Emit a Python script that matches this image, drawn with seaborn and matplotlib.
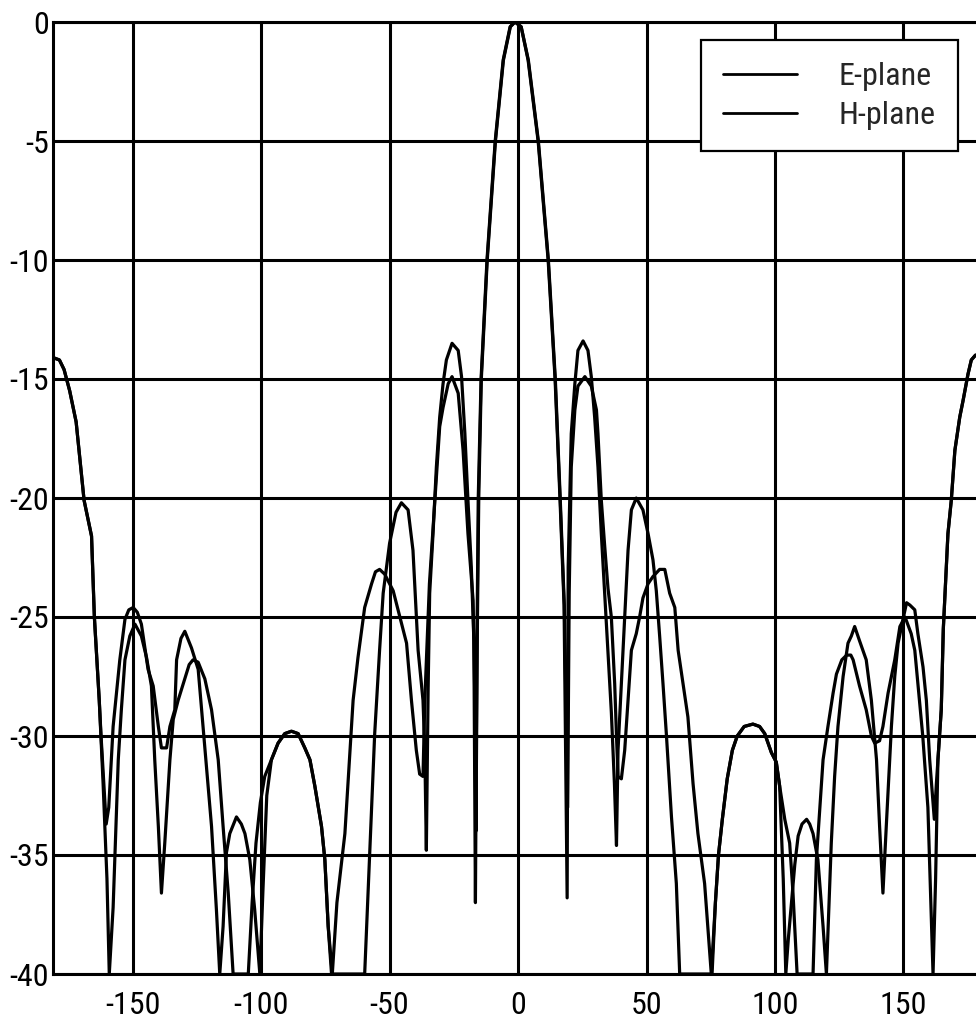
import matplotlib
matplotlib.use("Agg")
import matplotlib.pyplot as plt
from matplotlib import font_manager
import pandas as pd
import seaborn as sns

# Radiation pattern cuts, angle in degrees, normalised gain in dB
e_angle = [-181, -178.5, -176.7, -174.5, -172, -168.9, -166, -164.9, -163,
           -162.3, -160.3, -159.3, -157.6, -156.3, -155, -153, -151.5, -149.8, -148.2, -146.6,
           -144, -142, -140, -138.8, -136.8, -135.5, -133.6, -132.9, -131.2, -129.7,
           -127.1, -124.5, -121.9, -119.3, -117.4, -116.1, -114.8, -113.5, -112.2, -109.6,
           -107.7, -106.3, -104.4, -102.5, -100.5, -99.3, -97.8, -96, -93.4, -90.8,
           -88.2, -85.6, -83, -81, -79.1, -76.5, -75.2, -73.9, -72.6, -59.7,
           -57.7, -55.8, -53.9, -52.5, -50, -47.5, -45.4, -42.8, -40.9, -38.9,
           -37, -36.3, -35.7, -35, -34.4, -33.1, -31.8, -30.5, -29.2, -27.9,
           -25.7, -23.3, -22, -20.7, -19.5, -18.2, -17.2, -16.6, -16.0, -15.5,
           -14.4, -12.1, -8.9, -5.8, -3.1, -1.2, 1.2, 3.9, 7.8, 11.7,
           14.4, 16.3, 17.9, 19.1, 19.5, 20.1, 20.7, 22.1, 23.3, 25.3,
           27.2, 28.5, 29.8, 31.1, 32.4, 33.7, 35, 36.3, 37.5, 38.3,
           38.9, 40.2, 41.5, 42.8, 44.1, 46, 48.6, 50.6, 52.5, 53.8,
           55.1, 56.4, 57.7, 59.7, 61.6, 62.9, 75.5, 76.8, 78, 79.5,
           81.4, 83.4, 85.3, 88, 91.4, 94, 96, 98.6, 100.5, 101.8,
           103.2, 104.2, 105.2, 106.4, 107.7, 109, 110.5, 112.3, 113.5, 114.8,
           116.7, 118.7, 120, 121.9, 123.2, 124.5, 126.5, 128.4, 129.7, 131,
           132.9, 135.5, 137.5, 139.5, 140.7, 142, 143.3, 145.3, 146.6, 147.9,
           149.8, 151.2, 152.5, 154.4, 155.6, 157.6, 158.9, 160.2, 162, 162.8,
           163.4, 164.7, 165.5, 167.3, 168.6, 170, 171.9, 173.2, 175.1, 176.4,
           178, 179]
e_gain = [-14.1, -14.2, -14.6, -15.5, -16.8, -20.1, -21.6, -25, -28.5,
          -30, -33.7, -33, -29.6, -28.2, -26.8, -25.1, -24.7, -24.6, -24.8, -25.3,
          -27.2, -27.9, -29.6, -30.5, -30.5, -29.6, -28.9, -26.8, -25.9, -25.6,
          -26.3, -27.2, -30.5, -33.8, -37.3, -40, -38, -34.9, -34.1, -33.4,
          -33.7, -34.1, -35.2, -37.3, -40, -36.5, -32.5, -31, -30.3, -29.9,
          -29.8, -29.9, -30.5, -31, -32.1, -33.8, -35.2, -38, -40, -40,
          -34.8, -29.9, -26.4, -24, -21.9, -20.6, -20.2, -20.5, -22.2, -26.4,
          -28.5, -30.6, -34.8, -28, -24, -21.5, -18.7, -16.6, -15.2, -14.2,
          -13.5, -13.8, -14.9, -17.3, -20.1, -22.9, -26, -37, -26, -20,
          -15, -10, -5, -1.6, -0.2, 0, -0.2, -1.6, -5, -10,
          -15, -20, -24.5, -36.8, -22.9, -20.1, -17.3, -15.2, -13.8, -13.4,
          -13.8, -14.9, -16.6, -18.7, -21.5, -24, -26.5, -29, -32, -34.6,
          -30.6, -27.8, -25, -22.2, -20.5, -20, -20.5, -21.5, -22.6, -23.9,
          -25.8, -27.8, -29.9, -33.4, -36.2, -40, -40, -37, -35, -33.5,
          -31.8, -30.6, -30, -29.6, -29.5, -29.6, -29.9, -30.7, -31.1, -32.1,
          -36, -40, -38.5, -37, -35.4, -34.2, -33.7, -33.5, -33.7, -34.1,
          -35.2, -38, -40, -34.5, -31.7, -29.6, -27.5, -26.1, -25.8, -25.4,
          -26, -26.8, -28.5, -31, -33.8, -36.6, -33.8, -29.6, -27.5, -26.1,
          -25.1, -24.4, -24.5, -24.7, -25.7, -27.1, -28.5, -31, -33.5, -32,
          -31, -28.9, -25.5, -21.5, -20.1, -18, -16.6, -15.9, -14.8, -14.2,
          -14.0, -14.0]

h_angle = [-181, -178.5, -176.7, -174.5, -172, -168.9, -166, -164.9, -163,
           -161.5, -160, -159.1, -157.6, -155.6, -154.4, -153, -151.1, -149.1, -146.6, -144.6,
           -142.7, -141.4, -140, -138.8, -137.5, -135.5, -134.2, -132.3, -129.7, -128,
           -126.5, -124.5, -121.9, -119.3, -116.7, -114.8, -112.8, -110.9, -105, -103.5,
           -102, -100.3, -98.6, -96, -93.4, -90.8, -88.2, -85.6, -83, -81,
           -79.1, -76.5, -75.2, -73.9, -72.3, -70.5, -67.4, -64.2, -62.3, -59.7,
           -57, -55.5, -53.9, -51.9, -48.6, -46, -43.4, -41.5, -39.6, -38.3,
           -37, -36.3, -35, -34.5, -32.4, -31.1, -30.5, -29.2, -27.2, -25.7,
           -23.3, -21.4, -19.5, -17.5, -16.9, -16.4, -15.8, -15.3, -14.3, -12,
           -8.8, -5.7, -3, -1.2, 1.2, 4, 7.9, 11.8, 14.5, 16.4,
           18, 19.3, 19.9, 20.7, 22.1, 23.3, 26, 28.5, 30.5, 31.1,
           32.4, 33.7, 35, 36.3, 37.6, 38.3, 38.9, 40.2, 41.5, 42.8,
           44.1, 46, 47.3, 48.6, 50.6, 52.5, 55.1, 57.1, 59, 61,
           62.3, 64.2, 66.1, 68.1, 70, 72.6, 75.2, 76.8, 78, 79.5,
           81.4, 83.4, 85.3, 88, 91.4, 94, 96, 98.6, 100.5, 101.8,
           103.8, 105.7, 107, 108.6, 114.8, 116.1, 117.4, 118.7, 120.6, 122.6,
           123.9, 126, 127.9, 129.5, 130.4, 132.9, 135.5, 137.5, 138.8, 140.7,
           142, 144, 146.6, 148.6, 150.6, 153, 154.4, 155.6, 157.5, 159.5,
           161.5, 162.5, 163.4, 164.7, 165.5, 167.3, 168.6, 170, 171.9, 173.2,
           175.1, 176.4, 178, 179]
h_gain = [-14.1, -14.2, -14.6, -15.5, -16.8, -20.1, -21.6, -25, -28.5,
          -32, -36, -40, -37.2, -31, -28.9, -26.8, -25.8, -25.3, -25.8, -26.7,
          -27.9, -31, -33.8, -36.6, -34.5, -31, -29.3, -28.5, -27.6, -27,
          -26.8, -26.9, -27.6, -28.9, -31, -33.8, -36.6, -40, -40, -37,
          -34.5, -32.8, -31.7, -31, -30.3, -29.9, -29.8, -29.9, -30.5, -31,
          -32.1, -33.8, -35.2, -38, -40, -37, -34.1, -28.5, -26.7, -24.6,
          -23.6, -23.1, -23.0, -23.2, -23.9, -25, -26.1, -28.5, -30.6, -31.6,
          -31.7, -28.5, -25, -23.6, -20.1, -18, -17, -16.2, -15.2, -14.9,
          -15.6, -18, -21.5, -24.3, -28, -34, -25, -20, -15, -10,
          -5, -1.6, -0.2, 0, -0.2, -1.6, -5, -10, -15, -20,
          -24.5, -33, -24, -18.7, -16.3, -15.3, -14.9, -15.3, -16.3, -17.3,
          -20.1, -22, -23.8, -25, -27.8, -30, -31.7, -31.8, -30.6, -28.5,
          -26.4, -25.7, -25, -24.2, -23.6, -23.3, -23.0, -23.0, -24, -24.6,
          -26.4, -27.8, -29.2, -32, -34.1, -36.2, -40, -37, -35, -33.5,
          -31.8, -30.6, -30, -29.6, -29.5, -29.6, -29.9, -30.7, -31.1, -32.1,
          -33.5, -34.5, -36.6, -40, -40, -35.2, -33.1, -31, -29.6, -28.2,
          -27.4, -26.8, -26.6, -26.6, -26.8, -27.9, -28.9, -30, -30.3, -30.2,
          -29.6, -28.2, -26.8, -25.4, -25.0, -25.7, -26.4, -27.8, -30, -33,
          -40, -36, -31, -28.9, -25.5, -21.5, -20.1, -18, -16.6, -15.9,
          -14.8, -14.2, -14.0, -14.0]

plane_names = ["E-plane", "H-plane"]
x_ticks = [-150, -100, -50, 0, 50, 100, 150]
y_ticks = [0, -5, -10, -15, -20, -25, -30, -35, -40]

sns.set_theme(style="white")
plt.rcParams["font.family"] = ["Liberation Sans", "DejaVu Sans"]
plt.rcParams["axes.unicode_minus"] = False


def narrow_font(size):
    """Pick a condensed sans face if one is installed, else plain Liberation Sans."""
    preferred = ["Liberation Sans Narrow", "Arial Narrow", "Roboto Condensed",
                 "Open Sans Condensed", "Noto Sans", "DejaVu Sans"]
    condensed = [f for f in font_manager.fontManager.ttflist
                 if f.style == "normal" and str(f.weight) in ("400", "normal", "regular")
                 and ("Narrow" in f.name or "Condensed" in f.name
                      or f.stretch in ("condensed", "semi-condensed"))]
    for name in preferred:
        for f in condensed:
            if f.name == name:
                return font_manager.FontProperties(fname=f.fname, size=size)
    return font_manager.FontProperties(family="Liberation Sans", size=size - 1)


label_font = narrow_font(23)

pattern = pd.concat([
    pd.DataFrame({"angle": e_angle, "gain": e_gain, "plane": plane_names[0]}),
    pd.DataFrame({"angle": h_angle, "gain": h_gain, "plane": plane_names[1]}),
], ignore_index=True)

fig = plt.figure(figsize=(9.76, 10.23), dpi=100)
ax = fig.add_axes([53 / 976, 49 / 1023, 925 / 976, 952 / 1023])

sns.lineplot(data=pattern, x="angle", y="gain", hue="plane",
             palette={plane_names[0]: "black", plane_names[1]: "black"},
             sort=False, estimator=None, linewidth=2.3, ax=ax, zorder=3)

ax.set_xlim(-181, 179)
ax.set_ylim(-40, 0)
ax.set_xticks(x_ticks)
ax.set_yticks(y_ticks)
ax.set_xticklabels([str(v) for v in x_ticks])
ax.set_yticklabels([str(v) for v in y_ticks])
ax.set_xlabel("")
ax.set_ylabel("")

ax.grid(True, color="black", linewidth=2.2)
ax.set_axisbelow(True)
for side in ["left", "bottom", "top"]:
    ax.spines[side].set_color("black")
    ax.spines[side].set_linewidth(2.2)
ax.spines["right"].set_visible(False)

ax.tick_params(axis="both", length=0, colors="black")
ax.tick_params(axis="y", pad=3)
ax.tick_params(axis="x", pad=12)
for lbl in ax.get_xticklabels() + ax.get_yticklabels():
    lbl.set_fontproperties(label_font)

handles, labels = ax.get_legend_handles_labels()
leg = ax.legend(handles, labels, loc="upper right", bbox_to_anchor=(0.978, 0.981),
                borderaxespad=0, frameon=True, fancybox=False, framealpha=1,
                edgecolor="black", prop=label_font, handlelength=2.34,
                handletextpad=1.3, labelspacing=0.31, borderpad=0.68)
leg.get_frame().set_linewidth(1.6)
for line in leg.get_lines():
    line.set_linewidth(2.0)

fig.savefig("out.png", dpi=100)
